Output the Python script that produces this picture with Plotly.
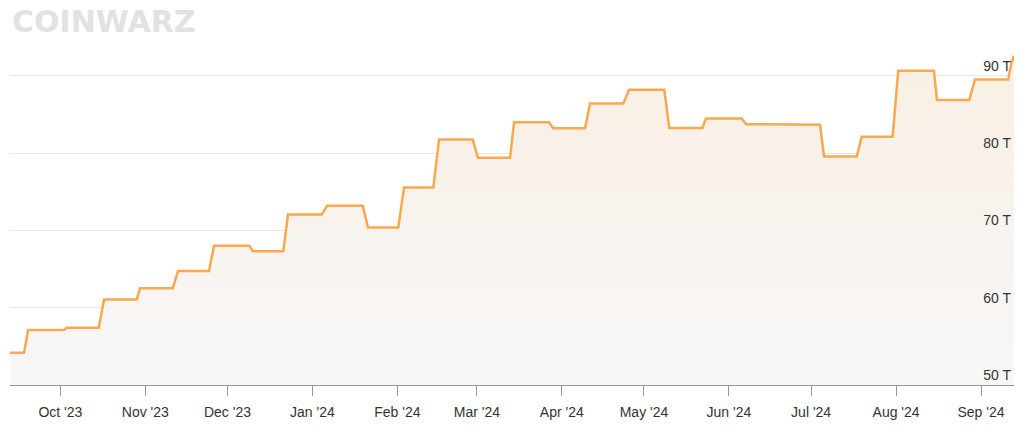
import plotly.graph_objects as go

# Network difficulty (T) - change points
dates = [
    "2023-09-12 15:00", "2023-09-17 18:00", "2023-09-19 05:00", "2023-10-02 08:00",
    "2023-10-03 08:00", "2023-10-15 00:00", "2023-10-16 23:00", "2023-10-28 21:00",
    "2023-10-30 02:00", "2023-11-11 00:00", "2023-11-12 23:00", "2023-11-24 06:00",
    "2023-11-26 02:00", "2023-12-08 23:00", "2023-12-10 08:00", "2023-12-21 09:00",
    "2023-12-23 02:00", "2024-01-04 10:00", "2024-01-06 08:00", "2024-01-19 09:00",
    "2024-01-21 07:00", "2024-02-01 08:00", "2024-02-03 10:00", "2024-02-14 03:00",
    "2024-02-16 05:00", "2024-02-28 12:00", "2024-03-01 10:00", "2024-03-13 03:00",
    "2024-03-14 14:00", "2024-03-27 08:00", "2024-03-28 19:00", "2024-04-09 12:00",
    "2024-04-11 07:00", "2024-04-23 11:00", "2024-04-25 13:00", "2024-05-08 10:00",
    "2024-05-10 06:00", "2024-05-22 07:00", "2024-05-23 15:00", "2024-06-05 16:00",
    "2024-06-07 06:00", "2024-06-20 15:00", "2024-06-21 11:00", "2024-07-04 06:00",
    "2024-07-05 17:00", "2024-07-17 15:00", "2024-07-19 11:00", "2024-07-30 18:00",
    "2024-08-01 19:00", "2024-08-14 20:00", "2024-08-15 22:00", "2024-08-27 17:00",
    "2024-08-29 19:00", "2024-09-10 23:00", "2024-09-11 22:00", "2024-09-13 00:00",
]
difficulty_t = [
    54.17, 54.17, 57.10, 57.10,
    57.40, 57.40, 61.07, 61.07,
    62.50, 62.50, 64.74, 64.74,
    68.00, 68.00, 67.30, 67.30,
    72.05, 72.05, 73.20, 73.20,
    70.36, 70.36, 75.55, 75.55,
    81.76, 81.76, 79.38, 79.38,
    84.00, 84.00, 83.20, 83.20,
    86.42, 86.42, 88.19, 88.19,
    83.23, 83.23, 84.48, 84.48,
    83.74, 83.74, 83.65, 83.65,
    79.56, 79.56, 82.10, 82.10,
    90.65, 90.65, 86.85, 86.85,
    89.53, 89.53, 91.40, 92.60,
]

y_ticks = [50, 60, 70, 80, 90]
y_tick_labels = ["50 T", "60 T", "70 T", "80 T", "90 T"]

x_range = ["2023-09-12 15:00", "2024-09-13 01:00"]
y_range = [50, 99.8]

fig = go.Figure()
fig.add_trace(go.Scatter(
    x=dates, y=difficulty_t, mode="lines",
    line=dict(color="rgb(249,168,79)", width=2.5),
    fill="tozeroy",
    fillgradient=dict(type="vertical", start=50, stop=92,
                      colorscale=[[0, "#f7f7f7"], [1, "#f9efe4"]]),
    hoverinfo="skip",
))

fig.update_layout(
    width=1024, height=435,
    margin=dict(l=10, r=10, t=0, b=50),
    paper_bgcolor="white", plot_bgcolor="white",
    showlegend=False,
    font=dict(family="Liberation Sans, Arial, sans-serif", size=14, color="#333333"),
    xaxis=dict(
        range=x_range, type="date",
        tick0="2023-10-01", dtick="M1", tickformat="%b '%y",
        ticks="outside", ticklen=10, tickcolor="#999999", tickwidth=1,
        showline=True, linecolor="#999999", linewidth=1,
        showgrid=False, zeroline=False,
        tickfont=dict(size=14, color="#333333"),
        ticklabelstandoff=4,
    ),
    yaxis=dict(
        range=y_range, side="right",
        tickvals=y_ticks, ticktext=y_tick_labels,
        ticklabelposition="inside top",
        showgrid=True, gridcolor="#e6e6e6", gridwidth=1,
        zeroline=False, showline=False, ticks="",
        tickfont=dict(size=14, color="#333333"),
    ),
    annotations=[dict(
        text="<b>COINWARZ</b>", xref="paper", yref="paper",
        x=0.0, y=1.0, xanchor="left", yanchor="top", showarrow=False,
        font=dict(family="DejaVu Sans", size=30, color="#e2e2e2"),
        xshift=0, yshift=-2,
    )],
)

fig.write_html("out.html")
